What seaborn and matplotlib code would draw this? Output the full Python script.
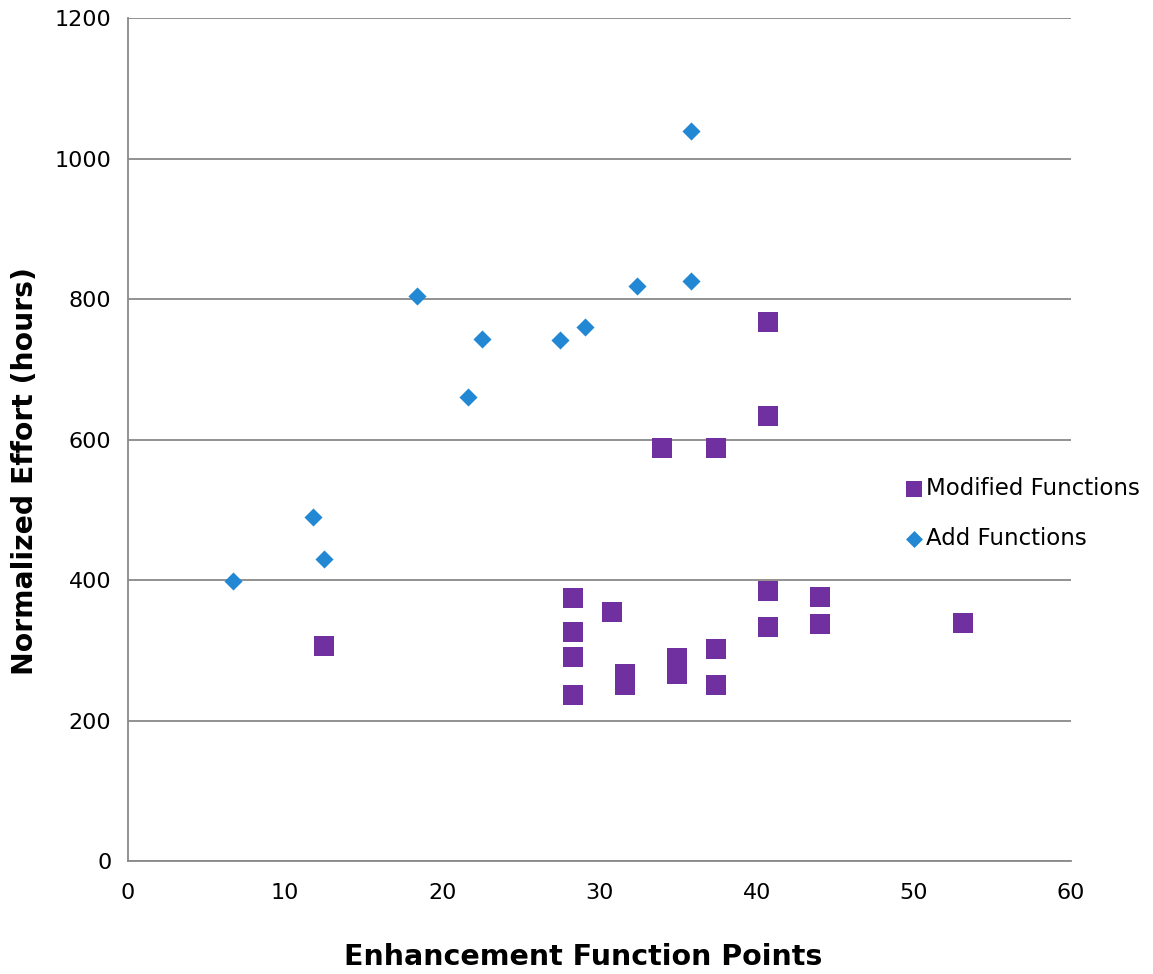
import matplotlib
matplotlib.use("Agg")
import matplotlib.pyplot as plt
import seaborn as sns
import pandas as pd

# Modified Functions (squares)
mod_x = [12.5, 28.3, 28.3, 28.3, 28.3, 30.8, 31.6, 31.6, 34.9, 34.9, 37.4, 37.4,
         34.0, 37.4, 40.7, 40.7, 40.7, 40.7, 44.0, 44.0, 53.1]
mod_y = [306, 375, 326, 290, 236, 355, 266, 251, 289, 266, 302, 251,
         588, 588, 767, 633, 384, 333, 376, 337, 339]

# Add Functions (diamonds)
add_x = [6.7, 11.8, 12.5, 18.4, 21.6, 22.5, 27.5, 29.1, 32.4, 35.8, 35.8]
add_y = [398, 490, 430, 804, 660, 743, 741, 760, 818, 1039, 826]

x_ticks = [0, 10, 20, 30, 40, 50, 60]
y_ticks = [0, 200, 400, 600, 800, 1000, 1200]

purple = "#7030A0"
blue = "#2388D3"
gray = "#898989"

sns.set_style("white")
plt.rcParams["font.family"] = ["DejaVu Sans"]
plt.rcParams["text.color"] = "black"
plt.rcParams["axes.labelcolor"] = "black"

df_mod = pd.DataFrame({"x": mod_x, "y": mod_y})
df_add = pd.DataFrame({"x": add_x, "y": add_y})

fig = plt.figure(figsize=(11.53, 9.74), dpi=100)
ax = fig.add_axes([0.111, 0.116, 0.818, 0.8655])

sns.scatterplot(data=df_mod, x="x", y="y", marker="s", s=200, color=purple,
                linewidth=0, ax=ax, label="Modified Functions", zorder=3)
sns.scatterplot(data=df_add, x="x", y="y", marker="D", s=85, color=blue,
                linewidth=0, ax=ax, label="Add Functions", zorder=3)

ax.set_xlim(0, 60)
ax.set_ylim(0, 1200)
ax.set_xticks(x_ticks)
ax.set_yticks(y_ticks)
ax.yaxis.grid(True, color=gray, linewidth=1.3)
ax.set_axisbelow(True)

for side in ["top", "right"]:
    ax.spines[side].set_visible(False)
for side in ["left", "bottom"]:
    ax.spines[side].set_color(gray)
    ax.spines[side].set_linewidth(1.3)

ax.tick_params(axis="both", which="major", direction="out", length=7,
               width=1.3, color=gray, labelsize=16, labelcolor="black")
ax.tick_params(axis="x", pad=9)
ax.tick_params(axis="y", pad=5)

ax.set_xlabel("Enhancement Function Points", fontsize=20.5, fontweight="bold",
              va="center")
ax.xaxis.set_label_coords(0.483, -0.114)
ax.set_ylabel("Normalized Effort (hours)", fontsize=20.3, fontweight="bold",
              va="center")
ax.yaxis.set_label_coords(-0.109, 0.463)

leg = ax.legend(loc="center left", bbox_to_anchor=(0.7725, 0.4728),
                bbox_transform=fig.transFigure, frameon=False, fontsize=16.5,
                borderpad=0, handlelength=1.0, handletextpad=0.06,
                labelspacing=1.15)
leg.legend_handles[0].set_sizes([130])
leg.legend_handles[1].set_sizes([75])

fig.savefig("out.png", dpi=100)
